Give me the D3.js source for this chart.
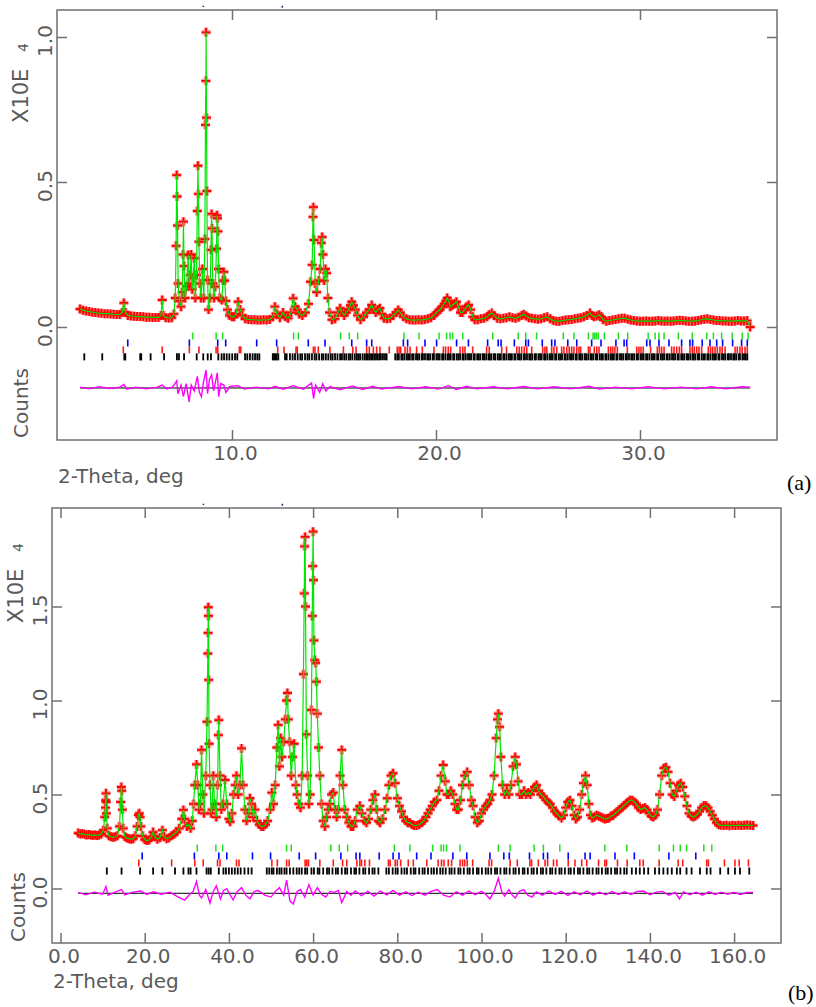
<!DOCTYPE html>
<html>
<head>
<meta charset="utf-8">
<script src="https://cdn.jsdelivr.net/npm/d3@7"></script>
<style>
  body { margin: 0; background: #fff; }
  svg { display: block; }
  text { font-family: "DejaVu Sans", sans-serif; fill: #5a5a5a; }
  .frame { fill: none; stroke: #707070; stroke-width: 1.5; }
  .axis path { display: none; }
  .axis line { stroke: #707070; stroke-width: 1.5; }
  .axis text { font-family: "DejaVu Sans", sans-serif; font-size: 20px; fill: #5a5a5a; }
  .ylab { font-size: 20px; }
  .halo { fill: none; stroke: #ff5050; stroke-width: 4.2; stroke-opacity: 0.6; }
  .obs { fill: none; stroke: #ff0000; stroke-width: 1.8; }
  .calc { fill: none; stroke: #00e600; stroke-width: 1.2; }
  .diff { fill: none; stroke: #ff00ff; stroke-width: 1.4; }
  .zero { stroke: #000; stroke-width: 1; }
  .tag { font-family: "Liberation Serif", serif; font-size: 22px; fill: #000; }
  .stray { font-size: 7px; font-weight: bold; fill: #000; }
</style>
</head>
<body>
<svg></svg>
<script>
var width = 816,
    height = 1007;

// ---------- panel (a) : 2-theta (deg) / counts x10^4 ----------
var obsA = [[2.55,.062],[2.7,.058],[2.85,.055],[3.0,.053],[3.15,.051],[3.3,.05],[3.45,.048],[3.6,.047],[3.75,.046],[3.9,.046],
  [4.05,.045],[4.2,.044],[4.35,.043],[4.5,.043],[4.62,.05],[4.7,.083],[4.78,.05],[4.9,.04],[5.05,.038],[5.2,.037],[5.35,.036],
  [5.5,.036],[5.65,.035],[5.8,.034],[5.95,.034],[6.1,.033],[6.25,.033],[6.4,.033],[6.52,.04],[6.58,.093],[6.64,.04],[6.75,.032],
  [6.9,.031],[7.05,.032],[7.15,.045],[7.22,.1],[7.26,.28],[7.29,.524],[7.31,.45],[7.33,.35],[7.36,.15],[7.42,.09],[7.5,.07],
  [7.56,.12],[7.6,.25],[7.62,.363],[7.65,.21],[7.7,.1],[7.78,.14],[7.85,.248],[7.9,.15],[7.95,.18],[8.0,.25],[8.05,.13],
  [8.1,.17],[8.15,.237],[8.2,.1],[8.26,.18],[8.3,.4],[8.33,.556],[8.35,.459],[8.38,.294],[8.42,.15],[8.48,.1],[8.55,.2],
  [8.62,.1],[8.67,.303],[8.7,.697],[8.72,.849],[8.73,1.016],[8.75,.722],[8.77,.469],[8.8,.162],[8.85,.06],[8.92,.1],[8.97,.266],
  [9.0,.39],[9.02,.34],[9.06,.15],[9.12,.1],[9.18,.139],[9.24,.27],[9.27,.385],[9.29,.375],[9.31,.33],[9.34,.2],[9.4,.1],
  [9.5,.093],[9.56,.16],[9.6,.19],[9.64,.16],[9.7,.09],[9.78,.06],[9.88,.04],[10.0,.035],[10.1,.035],[10.2,.045],[10.3,.087],
  [10.4,.06],[10.5,.04],[10.65,.028],[10.8,.026],[10.95,.025],[11.1,.025],[11.25,.024],[11.4,.024],[11.55,.025],[11.7,.024],
  [11.85,.026],[12.0,.035],[12.1,.07],[12.2,.045],[12.35,.032],[12.5,.05],[12.62,.035],[12.75,.03],[12.9,.05],[13.0,.099],
  [13.1,.07],[13.2,.06],[13.3,.045],[13.45,.04],[13.6,.05],[13.75,.08],[13.85,.156],[13.93,.214],[13.97,.38],[13.99,.413],
  [14.02,.3],[14.08,.15],[14.15,.12],[14.25,.16],[14.32,.2],[14.38,.29],[14.42,.31],[14.46,.25],[14.52,.16],[14.58,.2],
  [14.64,.186],[14.7,.1],[14.78,.05],[14.9,.025],[15.05,.028],[15.2,.05],[15.3,.065],[15.4,.05],[15.5,.04],[15.6,.05],
  [15.7,.06],[15.8,.075],[15.87,.087],[15.95,.075],[16.05,.06],[16.15,.04],[16.3,.025],[16.45,.035],[16.6,.05],[16.72,.06],
  [16.85,.076],[16.95,.06],[17.05,.05],[17.15,.06],[17.25,.065],[17.35,.045],[17.45,.03],[17.6,.028],[17.75,.03],[17.9,.04],
  [18.05,.05],[18.15,.059],[18.25,.05],[18.4,.035],[18.55,.028],[18.7,.025],[18.85,.024],[19.0,.024],[19.15,.025],[19.3,.024],
  [19.45,.026],[19.6,.028],[19.75,.032],[19.9,.04],[20.0,.048],[20.1,.055],[20.2,.06],[20.3,.07],[20.4,.08],[20.48,.09],
  [20.55,.1],[20.62,.09],[20.7,.07],[20.8,.075],[20.9,.08],[21.0,.087],[21.1,.07],[21.2,.05],[21.3,.05],[21.4,.06],[21.5,.07],
  [21.6,.076],[21.7,.06],[21.8,.035],[21.9,.025],[22.05,.025],[22.2,.028],[22.35,.03],[22.5,.035],[22.6,.042],[22.73,.048],
  [22.85,.04],[23.0,.03],[23.15,.028],[23.3,.03],[23.45,.032],[23.6,.035],[23.75,.032],[23.9,.03],[24.05,.034],[24.2,.04],
  [24.3,.044],[24.42,.038],[24.55,.032],[24.7,.03],[24.85,.028],[25.0,.027],[25.15,.028],[25.3,.032],[25.45,.035],[25.6,.028],
  [25.75,.022],[25.9,.02],[26.05,.02],[26.2,.022],[26.35,.024],[26.5,.025],[26.65,.026],[26.8,.028],[26.95,.03],[27.1,.032],
  [27.25,.035],[27.4,.04],[27.55,.048],[27.65,.04],[27.75,.035],[27.88,.038],[28.0,.042],[28.1,.035],[28.2,.025],[28.35,.02],
  [28.5,.022],[28.65,.024],[28.8,.026],[28.95,.028],[29.1,.03],[29.25,.03],[29.4,.027],[29.55,.024],[29.7,.022],[29.85,.021],
  [30.0,.02],[30.15,.02],[30.3,.021],[30.45,.02],[30.6,.02],[30.75,.021],[30.9,.022],[31.05,.021],[31.2,.02],[31.35,.021],
  [31.5,.02],[31.65,.021],[31.8,.022],[31.95,.023],[32.1,.022],[32.25,.021],[32.4,.02],[32.55,.02],[32.7,.021],[32.85,.022],
  [33.0,.025],[33.15,.027],[33.3,.028],[33.45,.026],[33.6,.024],[33.75,.022],[33.9,.022],[34.05,.021],[34.2,.021],[34.35,.02],
  [34.5,.02],[34.65,.021],[34.8,.022],[34.95,.021],[35.1,.021],[35.25,.022],[35.4,0.0]];

var diffA = [[2.55,.003],[3.0,-.003],[3.5,.004],[4.0,-.002],[4.5,.003],[4.7,.012],[4.85,-.004],[5.3,.003],[5.8,-.003],
  [6.3,.002],[6.58,.01],[6.8,-.003],[7.1,.004],[7.29,.025],[7.35,-.02],[7.5,.01],[7.62,-.03],[7.75,.015],[7.9,-.048],
  [8.0,.01],[8.15,-.01],[8.3,.04],[8.4,-.015],[8.5,-.03],[8.6,.02],[8.73,.062],[8.8,-.02],[8.9,.03],[9.0,.045],[9.1,-.01],
  [9.28,.052],[9.35,-.03],[9.45,.015],[9.6,.01],[9.7,-.015],[9.9,.005],[10.3,.008],[10.6,-.004],[11.2,.003],[11.8,-.003],
  [12.1,.006],[12.5,-.004],[13.0,.008],[13.5,-.004],[13.9,.017],[14.0,-.036],[14.1,.01],[14.3,-.015],[14.45,.015],
  [14.6,-.01],[14.8,.005],[15.3,-.006],[15.9,.007],[16.4,-.005],[16.9,.006],[17.3,-.004],[18.2,.005],[18.8,-.003],
  [19.5,.004],[20.1,-.004],[20.6,.008],[21.0,-.005],[21.5,.006],[22.0,-.003],[22.8,.004],[23.5,-.003],[24.3,.005],
  [25.0,-.003],[25.8,.004],[26.6,-.003],[27.5,.006],[28.0,-.004],[28.8,.003],[29.6,-.003],[30.4,.004],[31.2,-.003],
  [32.0,.003],[32.8,-.003],[33.5,.004],[34.2,-.003],[35.0,.004],[35.4,.003]];

// reflection markers, one list per phase
var greenA = [8.07,9.22,9.54,13.02,13.25,15.33,15.75,16.16,18.43,19.17,20.15,20.52,20.69,20.82,21.31,22.78,24.03,24.4,
  24.93,26.24,26.76,27.47,27.7,27.78,27.86,27.95,28.25,28.94,29.4,30.4,30.74,30.93,31.18,31.88,32.56,33.27,33.6,34.0,
  34.52,35.01,35.3];
var blueA = [4.89,7.91,9.3,9.69,11.21,12.19,13.74,14.56,15.87,16.6,16.85,18.4,18.61,19.46,20.03,21.01,21.59,22.53,23.05,
  23.19,23.84,24.4,24.53,25.21,25.67,25.83,26.46,26.9,27.63,28.09,28.82,29.22,29.35,30.33,30.49,30.93,31.42,32.04,32.45,
  32.58,33.05,33.43,33.76,34.05,34.54,34.98,35.26];
var redA = [4.67,6.58,7.91,8.38,9.22,9.3,10.36,10.43,12.24,12.55,13.14,13.2,13.99,14.07,14.23,14.8,15.46,15.92,16.08,16.6,
  16.73,16.93,17.09,17.25,17.71,18.1,18.19,18.27,18.48,18.6,18.73,19.05,19.33,19.9,20.36,20.47,20.6,20.72,21.18,21.31,
  21.42,21.8,22.48,22.61,23.22,23.46,23.96,24.08,24.2,24.33,24.45,24.69,25.23,25.34,25.43,25.67,25.78,25.92,26.16,26.27,
  26.41,26.53,26.65,26.76,26.9,27.01,27.09,27.47,27.55,27.76,27.88,27.99,28.45,28.56,28.66,28.77,28.89,29.38,29.84,29.95,
  30.05,30.16,30.52,30.85,30.95,31.06,31.18,31.55,31.67,31.8,31.93,32.04,32.45,32.56,32.66,32.78,32.89,33.02,33.35,33.46,
  33.56,33.68,33.79,33.92,34.03,34.17,34.66,34.77,34.9,35.01,35.15,35.26];
var blackA = [2.76,3.64,4.72,4.77,5.5,5.55,6.01,6.67,7.3,7.4,7.65,8.27,8.59,8.81,8.97,9.33,9.49,9.61,9.74,9.87,10.01,10.15,
  10.26,10.64,10.75,10.88,11.01,11.13,11.24,11.34,12.0,12.06,12.12,12.19,12.27,12.6,12.68,12.84,12.97,13.09,13.22,13.35,
  13.44,13.58,13.7,13.79,13.92,14.05,14.14,14.27,14.4,14.48,14.6,14.72,14.84,14.93,15.05,15.17,15.3,15.39,15.5,15.6,15.72,
  15.8,15.9,16.02,16.12,16.2,16.28,16.4,16.5,16.58,16.66,16.74,16.82,16.9,16.98,17.06,17.14,17.22,17.3,17.4,17.5,17.58,
  18.0,18.1,18.18,18.3,18.37,18.46,18.57,18.64,18.72,18.83,18.9,19.02,19.1,19.18,19.3,19.36,19.46,19.57,19.64,19.72,19.84,
  19.9,20.02,20.1,20.18,20.3,20.36,20.46,20.57,20.64,20.72,20.84,20.9,21.02,21.1,21.18,21.3,21.36,21.46,21.57,21.64,21.72,
  21.84,21.9,22.02,22.1,22.18,22.3,22.36,22.46,22.57,22.64,22.72,22.84,22.9,23.02,23.1,23.18,23.3,23.36,23.46,23.57,23.64,
  23.72,23.84,23.9,24.02,24.1,24.18,24.3,24.36,24.46,24.57,24.64,24.72,24.84,24.9,25.02,25.1,25.18,25.3,25.36,25.46,25.57,
  25.64,25.72,25.84,25.9,26.02,26.1,26.18,26.3,26.36,26.46,26.57,26.64,26.72,26.84,26.9,27.02,27.1,27.18,27.3,27.36,27.46,
  27.57,27.64,27.72,27.84,27.9,28.02,28.1,28.18,28.3,28.36,28.46,28.57,28.64,28.72,28.84,28.9,29.02,29.1,29.18,29.3,29.36,
  29.46,29.57,29.64,29.72,29.84,29.9,30.02,30.1,30.18,30.3,30.36,30.46,30.57,30.64,30.72,30.84,30.9,31.02,31.1,31.18,31.3,
  31.36,31.46,31.57,31.64,31.72,31.84,31.9,32.02,32.1,32.18,32.3,32.36,32.46,32.57,32.64,32.72,32.84,32.9,33.02,33.1,
  33.18,33.3,33.36,33.46,33.57,33.64,33.72,33.84,33.9,34.02,34.1,34.18,34.3,34.36,34.46,34.57,34.64,34.72,34.84,34.9,
  35.02,35.1,35.18,35.26];
var xTicksA = [10, 20, 30];
var yTicksA = [0, 0.5, 1.0];

// ---------- panel (b) ----------
var obsB = [[4.2,.295],[4.7,.29],[5.2,.292],[5.7,.288],[6.2,.285],[6.7,.287],[7.2,.284],[7.7,.283],[8.2,.285],[8.7,.282],
  [9.2,.285],[9.7,.29],[10.2,.31],[10.5,.38],[10.7,.43],[10.75,.47],[10.8,.506],[10.85,.46],[10.9,.4],[11.1,.32],[11.5,.28],
  [12.0,.275],[12.5,.272],[13.0,.275],[13.5,.28],[14.0,.33],[14.3,.46],[14.45,.54],[14.55,.52],[14.7,.42],[14.9,.32],
  [15.3,.275],[15.8,.268],[16.3,.265],[16.8,.262],[17.3,.265],[17.8,.28],[18.2,.33],[18.5,.39],[18.7,.4],[18.9,.38],
  [19.1,.33],[19.5,.28],[20.0,.26],[20.5,.255],[21.0,.258],[21.5,.27],[22.0,.3],[22.4,.275],[23.0,.262],[23.6,.27],
  [24.2,.31],[24.6,.275],[25.2,.265],[25.8,.27],[26.4,.28],[27.0,.29],[27.6,.3],[28.2,.32],[28.8,.37],[29.2,.418],
  [29.5,.37],[30.0,.33],[30.5,.34],[30.9,.32],[31.3,.36],[31.6,.45],[31.9,.55],[32.3,.66],[32.6,.55],[32.9,.42],[33.2,.45],
  [33.5,.737],[33.8,.5],[34.1,.4],[34.5,.6],[34.8,.887],[35.0,1.25],[35.05,1.36],[35.1,1.496],[35.15,1.45],[35.2,1.11],
  [35.3,.77],[35.5,.55],[35.8,.4],[36.0,.42],[36.3,.6],[36.6,.45],[37.0,.38],[37.3,.55],[37.5,.816],[37.6,.896],[37.9,.6],
  [38.2,.42],[38.6,.45],[39.1,.577],[39.5,.45],[40.0,.37],[40.3,.355],[40.7,.4],[41.1,.5],[41.5,.55],[41.8,.6],[42.2,.5],
  [42.6,.55],[43.0,.745],[43.4,.55],[43.8,.42],[44.2,.36],[44.6,.4],[45.0,.48],[45.4,.45],[45.8,.38],[46.2,.42],[46.7,.36],
  [47.2,.34],[47.7,.33],[48.2,.33],[48.7,.34],[49.2,.36],[49.8,.42],[50.2,.51],[50.6,.45],[51.0,.55],[51.4,.75],[51.7,.87],
  [52.0,.65],[52.3,.8],[52.6,.7],[53.0,.78],[53.4,.9],[53.7,1.0],[53.9,1.04],[54.1,.9],[54.4,.78],[54.8,.6],[55.1,.7],
  [55.5,.77],[55.9,.55],[56.2,.5],[56.6,.45],[57.0,.43],[57.4,.6],[57.7,1.14],[57.9,1.57],[58.0,1.82],[58.1,1.87],[58.2,1.5],
  [58.4,.82],[58.7,.6],[59.0,.45],[59.3,.5],[59.6,.95],[59.8,1.45],[59.9,1.715],[60.0,1.898],[60.1,1.64],[60.2,1.32],
  [60.4,1.215],[60.6,1.2],[60.8,1.1],[61.0,.93],[61.3,.75],[61.6,.6],[62.0,.45],[62.4,.36],[62.8,.33],[63.2,.38],[63.6,.42],
  [64.0,.45],[64.4,.5],[64.8,.51],[65.2,.42],[65.6,.38],[66.0,.42],[66.4,.6],[66.8,.737],[67.1,.55],[67.5,.42],[68.0,.38],
  [68.5,.35],[69.0,.33],[69.5,.33],[70.0,.36],[70.5,.42],[71.1,.44],[71.6,.4],[72.2,.36],[72.7,.35],[73.2,.37],[73.7,.42],
  [74.2,.47],[74.7,.5],[75.1,.42],[75.5,.36],[75.9,.35],[76.5,.37],[77.1,.42],[77.6,.48],[78.0,.55],[78.5,.6],[79.0,.613],
  [79.5,.56],[80.0,.48],[80.5,.44],[81.0,.41],[81.5,.38],[82.0,.36],[82.5,.35],[83.0,.35],[83.5,.34],[84.0,.335],[84.6,.335],
  [85.2,.34],[85.8,.35],[86.3,.36],[86.8,.38],[87.3,.4],[87.8,.42],[88.3,.44],[88.8,.46],[89.4,.47],[89.9,.52],[90.4,.6],
  [90.9,.657],[91.4,.57],[91.8,.5],[92.2,.5],[92.7,.52],[93.2,.5],[93.7,.45],[94.1,.42],[94.5,.42],[95.0,.47],[95.5,.55],
  [96.0,.6],[96.6,.62],[97.1,.55],[97.6,.47],[98.0,.44],[98.5,.38],[99.0,.35],[99.5,.36],[100.0,.4],[100.5,.42],[101.0,.44],
  [101.5,.45],[102.0,.47],[102.5,.5],[103.0,.6],[103.5,.8],[103.8,.9],[104.0,.93],[104.3,.86],[104.6,.7],[105.0,.55],
  [105.5,.5],[106.0,.52],[106.5,.5],[107.0,.55],[107.5,.65],[108.0,.7],[108.3,.66],[108.7,.57],[109.1,.5],[109.6,.5],
  [110.1,.52],[110.6,.5],[111.1,.51],[111.6,.5],[112.1,.52],[112.6,.54],[113.1,.55],[113.6,.52],[114.1,.5],[114.7,.49],
  [115.3,.47],[115.8,.46],[116.3,.45],[116.9,.43],[117.4,.41],[117.9,.4],[118.4,.385],[119.0,.375],[119.5,.39],[120.0,.43],
  [120.5,.46],[121.0,.47],[121.5,.44],[122.0,.39],[122.4,.37],[122.8,.38],[123.3,.42],[123.8,.5],[124.2,.56],[124.7,.6],
  [125.1,.55],[125.5,.45],[125.9,.39],[126.3,.375],[126.8,.38],[127.3,.39],[127.8,.385],[128.3,.38],[128.8,.375],[129.3,.37],
  [129.8,.372],[130.3,.375],[130.8,.385],[131.3,.39],[131.8,.4],[132.3,.41],[132.8,.42],[133.3,.43],[133.8,.44],[134.3,.45],
  [134.8,.46],[135.3,.47],[135.8,.47],[136.3,.46],[136.8,.45],[137.3,.43],[137.8,.42],[138.3,.425],[138.8,.43],[139.3,.42],
  [139.8,.4],[140.3,.385],[140.8,.38],[141.3,.39],[141.8,.42],[142.3,.5],[142.8,.6],[143.3,.64],[143.8,.645],[144.3,.62],
  [144.8,.56],[145.3,.5],[145.8,.49],[146.3,.52],[146.8,.55],[147.3,.56],[147.8,.54],[148.3,.49],[148.8,.44],[149.3,.4],
  [149.8,.385],[150.3,.38],[150.8,.385],[151.3,.395],[151.8,.41],[152.3,.43],[152.8,.44],[153.3,.44],[153.8,.43],[154.3,.41],
  [154.8,.39],[155.3,.37],[155.8,.35],[156.3,.34],[156.8,.337],[157.5,.335],[158.2,.337],[158.9,.334],[159.6,.336],
  [160.3,.335],[161.0,.337],[161.7,.335],[162.4,.336],[163.1,.338],[163.8,.336],[164.5,.335]];

var diffB = [[4.2,.005],[6,-.008],[8,.006],[10,-.005],[10.8,.035],[11.3,-.01],[13,.006],[14.5,.02],[15.3,-.008],[17,.005],
  [19,.012],[20.5,-.006],[22,.008],[24,-.005],[26,.006],[28,-.02],[29.5,-.036],[30.5,-.01],[31.5,.01],[32.3,.062],[33,-.01],
  [33.5,-.025],[34.5,.02],[35.5,-.052],[36.3,.01],[37,.04],[38,-.03],[38.7,.015],[39.5,.025],[40.3,-.01],[41,-.035],[42,.01],
  [43,.03],[44,-.01],[45,-.03],[46,.01],[47,.015],[48.5,-.01],[50,-.02],[51,.01],[52,.03],[53,-.01],[53.7,.07],[54.5,-.04],
  [55.3,-.057],[56.2,.01],[57,.02],[58,-.02],[59,.045],[60,-.01],[61,.03],[62,-.005],[63,-.02],[64,.01],[65,.005],[66,.015],
  [66.8,-.05],[68,.01],[69,-.01],[70,.012],[71.5,-.012],[73,.01],[74.5,-.015],[76,.012],[77.5,-.008],[79,.015],[80.5,-.01],
  [82,.008],[83.5,-.012],[85,.006],[86.5,-.01],[88,.01],[89.5,.02],[91,-.01],[92.5,-.02],[94,.008],[95.5,-.01],[97,.012],
  [98.5,-.008],[100,.01],[101,-.005],[102,-.03],[103,.01],[104,.08],[104.8,.01],[105.5,-.015],[106.5,.02],[107.3,-.01],
  [108,-.025],[109,.01],[110,.02],[111,-.01],[112,-.02],[113,.008],[114.5,-.01],[116,.012],[117.5,-.006],[119,.01],
  [120.5,-.012],[122,.008],[123.5,-.008],[125,.012],[126.5,-.01],[128,.006],[129.5,-.008],[131,.01],[132.5,-.006],[134,.008],
  [135.5,-.006],[137,.01],[138.5,.012],[140,-.008],[141.5,.006],[143,.01],[144.5,-.01],[146,.005],[147,-.03],[148,.008],
  [149.5,-.008],[151,.006],[152.5,-.01],[154,.008],[155.5,-.006],[157,.006],[158.5,-.005],[160,.005],[161.5,-.006],
  [163,.004],[164.5,.005]];

var greenB = [32.5,36.9,38.5,53.7,54.8,64.2,66.2,68.2,79.3,83.0,88.4,90.4,91.0,91.7,94.9,104.0,106.8,112.5,114.7,118.6,
  129.3,134.5,142.2,145.6,147.2,148.7,152.8,154.7];
var blueB = [19.4,31.8,37.6,39.5,45.6,49.9,56.7,60.6,66.6,70.2,71.1,75.7,79.0,80.4,84.6,88.0,93.2,96.5,102.0,105.3,106.6,
  111.4,114.7,115.7,120.6,124.6,125.8,131.7,136.3,144.5,150.9];
var redB = [18.6,26.4,31.9,33.9,37.3,37.9,41.8,42.4,50.2,51.5,53.7,54.3,58.1,58.5,58.9,61.6,64.8,67.0,68.0,70.4,71.1,71.5,
  72.3,73.4,77.9,78.3,79.5,80.0,80.8,82.6,83.8,87.0,89.7,90.5,91.1,92.1,92.9,94.9,95.5,96.0,96.6,97.9,101.8,102.4,106.8,
  108.5,111.5,111.9,113.5,115.1,115.7,117.1,117.9,120.6,122.2,123.8,125.0,127.8,129.3,129.7,132.3,134.6,137.6,138.4,142.2,
  146.7,147.8,153.5,153.9,157.7,160.2,161.2,163.4];
var blackB = [11.0,14.5,18.9,22.0,24.2,27.2,29.2,30.4,30.9,32.3,34.7,35.2,35.7,37.6,38.7,39.3,40.0,40.7,41.4,42.1,42.8,43.7,
  44.6,45.4,49.0,49.6,50.2,50.6,51.4,52.0,52.5,53.2,53.7,54.5,55.3,56.1,56.7,57.3,58.1,58.6,59.6,60.2,61.1,61.5,62.4,63.3,
  63.8,64.6,65.4,65.9,66.8,67.6,68.1,69.0,69.8,70.2,71.0,71.9,72.4,73.3,74.1,74.6,75.5,77.4,78.0,78.9,79.6,80.1,81.0,81.7,
  82.3,83.2,83.9,84.3,85.2,86.0,86.5,87.3,88.1,88.7,89.4,90.2,90.8,91.5,92.4,92.9,93.6,94.5,95.0,95.8,96.7,97.2,98.0,98.9,
  99.3,100.1,101.0,101.6,102.3,103.2,103.7,104.5,105.4,105.9,106.7,107.6,108.1,108.9,109.8,110.2,111.0,111.9,112.4,113.2,
  114.1,114.6,115.4,116.3,116.8,117.6,118.5,119.0,119.8,120.7,121.2,122.0,122.9,123.4,124.2,125.1,125.6,126.4,127.3,127.8,
  128.6,129.5,130.0,130.8,131.7,132.2,133.0,133.9,134.5,135.7,136.7,137.6,138.6,139.6,141.2,142.2,143.2,144.2,145.2,146.4,
  147.2,148.7,149.9,151.9,153.5,154.4,156.7,158.6,160.2,161.4,163.6];
var xTicksB = [0, 20, 40, 60, 80, 100, 120, 140, 160];
var yTicksB = [0, 0.5, 1.0, 1.5];

// ---------- layout ----------
var panels = [
  { obs: obsA, diff: diffA, phases: [greenA, blueA, redA, blackA], xTicks: xTicksA, yTicks: yTicksA,
    xDomain: [1.4216, 36.716], yDomain: [-0.3897, 1.0931], left: 57, right: 777, top: 10, bottom: 440,
    rows: [-0.031, -0.055, -0.079, -0.103], diffBase: -0.2103,
    yLabX: 52, unitX: 28, unitY: 123, fourY: 52, countsX: 28, countsY: 438, titleX: 58, titleY: 483,
    tag: "(a)", tagX: 787, tagY: 490 },
  { obs: obsB, diff: diffB, phases: [greenB, blueB, redB, blackB], xTicks: xTicksB, yTicks: yTicksB,
    xDomain: [-2.019, 171.14], yDomain: [-0.2899, 2.0239], left: 52, right: 781, top: 508, bottom: 943,
    rows: [0.215, 0.173, 0.136, 0.093], diffBase: -0.0255,
    yLabX: 47, unitX: 23, unitY: 623, fourY: 552, countsX: 25, countsY: 942, titleX: 53, titleY: 988,
    tag: "(b)", tagX: 788, tagY: 1000 }
];
var phaseColors = ["#22dd22", "#0000ff", "#ff1a1a", "#000000"];
var phaseWidths = [1.5, 1.6, 1.6, 1.8];
var fmt = d3.format(".1f");

var svg = d3.select("svg")
    .attr("width", width)
    .attr("height", height);

function crossPath(x, y) {
  return function(d) {
    var cx = x(d[0]), cy = y(d[1]);
    return "M" + (cx - 4.5) + "," + cy + "H" + (cx + 4.5) + "M" + cx + "," + (cy - 4.5) + "V" + (cy + 4.5);
  };
}

panels.forEach(function(p) {
  var x = d3.scaleLinear().domain(p.xDomain).range([p.left, p.right]);
  var y = d3.scaleLinear().domain(p.yDomain).range([p.bottom, p.top]);
  var g = svg.append("g");

  g.append("rect")
      .attr("class", "frame")
      .attr("x", p.left)
      .attr("y", p.top)
      .attr("width", p.right - p.left)
      .attr("height", p.bottom - p.top);

  // inward ticks on all four sides
  var bottomAxis = g.append("g")
      .attr("class", "axis")
      .attr("transform", "translate(0," + p.bottom + ")")
      .call(d3.axisBottom(x).tickValues(p.xTicks).tickSize(-10).tickPadding(6).tickFormat(fmt));
  bottomAxis.selectAll("text").attr("dx", 3);
  g.append("g")
      .attr("class", "axis")
      .attr("transform", "translate(0," + p.top + ")")
      .call(d3.axisTop(x).tickValues(p.xTicks).tickSize(-10).tickFormat(""));
  g.append("g")
      .attr("class", "axis")
      .attr("transform", "translate(" + p.left + ",0)")
      .call(d3.axisLeft(y).tickValues(p.yTicks).tickSize(-10).tickFormat(""));
  g.append("g")
      .attr("class", "axis")
      .attr("transform", "translate(" + p.right + ",0)")
      .call(d3.axisRight(y).tickValues(p.yTicks).tickSize(-10).tickFormat(""));

  // rotated y tick labels
  g.selectAll(".ylab")
      .data(p.yTicks)
    .enter().append("text")
      .attr("class", "ylab")
      .attr("text-anchor", "middle")
      .attr("transform", function(d) { return "translate(" + p.yLabX + "," + (y(d) + 4) + ") rotate(-90)"; })
      .text(fmt);

  g.append("text")
      .attr("transform", "translate(" + p.unitX + "," + p.unitY + ") rotate(-90)")
      .style("font-size", "21px")
      .text("X10E");
  g.append("text")
      .attr("transform", "translate(" + p.unitX + "," + p.fourY + ") rotate(-90)")
      .style("font-size", "14px")
      .text("4");
  g.append("text")
      .attr("transform", "translate(" + p.countsX + "," + p.countsY + ") rotate(-90)")
      .style("font-size", "20px")
      .text("Counts");
  g.append("text")
      .attr("x", p.titleX)
      .attr("y", p.titleY)
      .style("font-size", "20px")
      .text("2-Theta, deg");
  g.append("text")
      .attr("class", "tag")
      .attr("x", p.tagX)
      .attr("y", p.tagY)
      .text(p.tag);

  // reflection markers
  p.phases.forEach(function(list, i) {
    g.selectAll(".ref" + i)
        .data(list)
      .enter().append("line")
        .attr("class", "ref" + i)
        .attr("x1", function(d) { return x(d); })
        .attr("x2", function(d) { return x(d); })
        .attr("y1", y(p.rows[i]) - 3.5)
        .attr("y2", y(p.rows[i]) + 3.5)
        .attr("stroke", phaseColors[i])
        .attr("stroke-width", phaseWidths[i]);
  });

  // difference curve
  var xs = d3.extent(p.obs, function(d) { return d[0]; });
  g.append("line")
      .attr("class", "zero")
      .attr("x1", x(xs[0]))
      .attr("x2", x(xs[1]))
      .attr("y1", y(p.diffBase))
      .attr("y2", y(p.diffBase));
  g.append("path")
      .attr("class", "diff")
      .attr("d", d3.line()
          .x(function(d) { return x(d[0]); })
          .y(function(d) { return y(p.diffBase + d[1]); })(p.diff));

  // observed points (soft halo, then the red crosses)
  g.selectAll(".halo")
      .data(p.obs)
    .enter().append("path")
      .attr("class", "halo")
      .attr("d", crossPath(x, y));
  g.selectAll(".obs")
      .data(p.obs)
    .enter().append("path")
      .attr("class", "obs")
      .attr("d", crossPath(x, y));

  // calculated profile
  g.append("path")
      .attr("class", "calc")
      .attr("d", d3.line()
          .x(function(d) { return x(d[0]); })
          .y(function(d) { return y(d[1]); })(p.obs));

  // stray marks along the top edge
  g.append("text").attr("class", "stray").attr("x", 202).attr("y", p.top - 3).text(".");
  g.append("text").attr("class", "stray").attr("x", 281).attr("y", p.top - 3).text(",");
});
</script>
</body>
</html>
